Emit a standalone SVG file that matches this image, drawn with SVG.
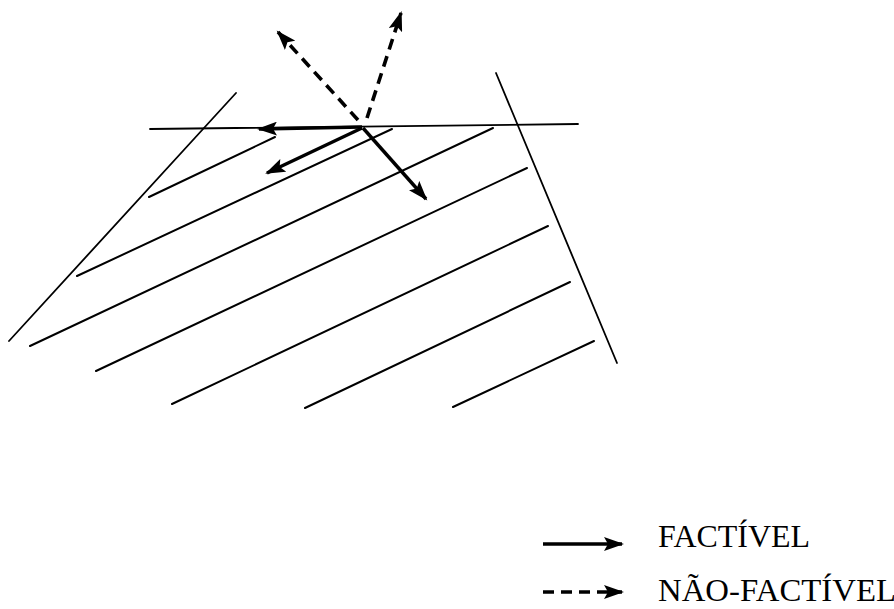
<svg xmlns="http://www.w3.org/2000/svg" width="894" height="609" viewBox="0 0 894 609">
  <style>
    .thin { stroke: #000; stroke-width: 1.8; fill: none; stroke-linecap: round; }
    .hatch { stroke: #000; stroke-width: 2; fill: none; stroke-linecap: round; }
    .vec { stroke: #000; stroke-width: 3.4; fill: none; marker-end: url(#head); }
    .dash { stroke-dasharray: 11 7; stroke-width: 3.6; }
    .lbl { font-family: "Liberation Serif", "DejaVu Serif", serif; font-size: 31px; fill: #000; }
  </style>
  <defs>
    <marker id="head" markerUnits="userSpaceOnUse" markerWidth="21" markerHeight="14" refX="18" refY="7" orient="auto">
      <path d="M0,0 L20,7 L0,14 L4,7 z" fill="#000"/>
    </marker>
  </defs>
  <rect x="0" y="0" width="894" height="609" fill="#fff"/>

  <g id="constraints">
    <line class="thin" x1="150" y1="129" x2="578" y2="124"/>
    <line class="thin" x1="236" y1="93" x2="9" y2="341"/>
    <line class="thin" x1="496" y1="73" x2="617" y2="363"/>
  </g>

  <g id="feasible-region">
    <line class="hatch" x1="149" y1="197" x2="275" y2="137"/>
    <line class="hatch" x1="77" y1="276" x2="392" y2="129"/>
    <line class="hatch" x1="30" y1="346" x2="493" y2="128"/>
    <line class="hatch" x1="96" y1="371" x2="527" y2="168"/>
    <line class="hatch" x1="172" y1="404" x2="548" y2="226"/>
    <line class="hatch" x1="305" y1="408" x2="570" y2="282"/>
    <line class="hatch" x1="453" y1="407" x2="594" y2="341"/>
  </g>

  <g id="connectors">
    <line class="vec" x1="362" y1="127" x2="259" y2="129"/>
    <line class="vec" x1="362" y1="128" x2="267" y2="173"/>
    <line class="vec" x1="363" y1="128" x2="426" y2="199"/>
    <line class="vec dash" x1="358" y1="120" x2="278" y2="32"/>
    <line class="vec dash" x1="367" y1="118" x2="401" y2="13"/>
  </g>

  <g id="legend">
    <g id="legend-feasible">
      <line class="vec" x1="543" y1="544" x2="622" y2="544"/>
      <text class="lbl" x="658" y="547" textLength="152" lengthAdjust="spacingAndGlyphs">FACTÍVEL</text>
    </g>
    <g id="legend-infeasible">
      <line class="vec dash" x1="543" y1="592" x2="622" y2="592" stroke-dasharray="12 6"/>
      <text class="lbl" x="658" y="601" textLength="238" lengthAdjust="spacingAndGlyphs">NÃO-FACTÍVEL</text>
    </g>
  </g>
</svg>
